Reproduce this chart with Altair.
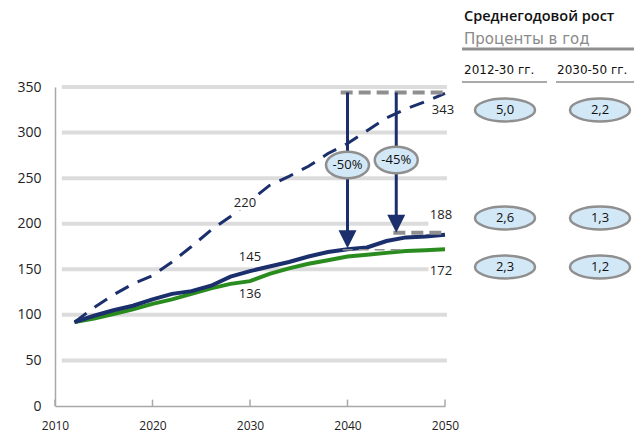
import altair as alt
import pandas as pd

# ---------------- data ----------------
years = [2012, 2014, 2016, 2018, 2020, 2022, 2024, 2026, 2028, 2030,
         2032, 2034, 2036, 2038, 2040, 2042, 2044, 2046, 2048, 2050]
blue_vals = [92, 99, 105, 110, 117, 123, 126, 132, 142, 148,
             153, 158, 164, 169, 172, 174, 181, 185, 186, 188]
green_vals = [92, 96, 101, 106, 112, 117, 123, 129, 134, 137,
              145, 151, 156, 160, 164, 166, 168, 170, 171, 172]
dashed_vals = [92, 108, 122, 134, 143, 158, 175, 193, 208, 225,
               242, 252, 263, 277, 288, 302, 316, 326, 334, 343]

end_labels = ["343", "188", "172"]
mid_labels = ["220", "145", "136"]
reduction_labels = ["-50%", "-45%"]
reduction_years = [2040, 2045]
reduction_tips = [173, 190]
reduction_top = 344

table_title = "Среднегодовой рост"
table_subtitle = "Проценты в год"
period_labels = ["2012-30 гг.", "2030-50 гг."]
growth_2012_30 = ["5,0", "2,6", "2,3"]
growth_2030_50 = ["2,2", "1,3", "1,2"]

y_ticks = [0, 50, 100, 150, 200, 250, 300, 350]
x_ticks = [2010, 2020, 2030, 2040, 2050]

# ---------------- layout helpers ----------------
X0, Y0 = 55, 87            # absolute page position of plot origin
PW, PH = 390, 319          # span of 2010-2050 and 0-350
XR = 634                   # right edge of drawing on the page
XPX = PW / 40.0
YPX = PH / 350.0
FONT = "Open Sans"
TFONT = "DejaVu Sans"
NAVY = "#1b2f6c"
GREEN = "#2a8c1f"
GRAY = "#8f8f8f"
GRID = "#dcdcdc"
BUBBLE = "#d3e8f7"


def xv(abs_x):
    return 2010 + (abs_x - X0) / XPX


def yv(abs_y):
    return 350 - (abs_y - Y0) / YPX


xscale = alt.Scale(domain=[2010, 2050], range=[0, PW], nice=False, zero=False)
yscale = alt.Scale(domain=[0, 350], nice=False)
xaxis = alt.Axis(values=x_ticks, format="d", ticks=False, grid=False,
                 domainColor="#a8a8a8", domainWidth=1.5, labelFont=FONT,
                 labelFontSize=12, labelColor="#222", labelPadding=14,
                 labelFlush=False, title=None)
yaxis = alt.Axis(values=y_ticks, ticks=False, grid=False, domainColor="#a8a8a8",
                 domainWidth=1.5, labelFont=FONT, labelFontSize=14,
                 labelColor="#222", labelPadding=14, labelFlush=False, title=None)


def X(f):
    return alt.X(f, type="quantitative", scale=xscale, axis=xaxis)


def Y(f):
    return alt.Y(f, type="quantitative", scale=yscale, axis=yaxis)


# ---------------- gridlines & ticks ----------------
grid_df = pd.DataFrame({
    "v": y_ticks[1:],
    "x1": [2010.7] * 7,
    "x2": [2050.2 if v not in (150, 200) else 2048.3 for v in y_ticks[1:]],
})
grid = alt.Chart(grid_df).mark_rule(color=GRID, strokeWidth=4).encode(
    x=X("x1"), x2="x2", y=Y("v"))

tick_df = pd.DataFrame({"year": x_ticks, "y1": [0] * 5, "y2": [7] * 5})
ticks = alt.Chart(tick_df).mark_rule(color="#a8a8a8", strokeWidth=1.5).encode(
    x=X("year"), y=Y("y1"), y2="y2")

# ---------------- lines ----------------
lines_df = pd.DataFrame({"year": years, "blue": blue_vals, "green": green_vals,
                         "dashed": dashed_vals})
green_line = alt.Chart(lines_df).mark_line(color=GREEN, strokeWidth=4).encode(
    x=X("year"), y=Y("green"))
blue_line = alt.Chart(lines_df).mark_line(color=NAVY, strokeWidth=4).encode(
    x=X("year"), y=Y("blue"))
dashed_line = alt.Chart(lines_df).mark_line(
    color=NAVY, strokeWidth=3, strokeDash=[15, 10]).encode(
    x=X("year"), y=Y("dashed"))

# ---------------- gray reference dashes ----------------
gd_df = pd.DataFrame({"x1": [2039.3, 2044.7], "x2": [2050.2, 2050.2],
                      "v": [reduction_top, reduction_tips[1]]})
gray_dash = alt.Chart(gd_df).mark_rule(color=GRAY, strokeWidth=4,
                                       strokeDash=[12, 6]).encode(
    x=X("x1"), x2="x2", y=Y("v"))
thin_df = pd.DataFrame({"x1": [2039.5], "x2": [2046.0], "v": [171.5]})
thin_dash = alt.Chart(thin_df).mark_rule(color=GRAY, strokeWidth=1.5,
                                         strokeDash=[10, 6]).encode(
    x=X("x1"), x2="x2", y=Y("v"))

# ---------------- arrows ----------------
arr_df = pd.DataFrame({
    "year": reduction_years,
    "top": [reduction_top] * 2,
    "tip": reduction_tips,
    "head": [t + 9 / YPX for t in reduction_tips],
    "shaft_end": [t + 12 / YPX for t in reduction_tips],
})
shafts = alt.Chart(arr_df).mark_rule(color=NAVY, strokeWidth=3).encode(
    x=X("year"), y=Y("top"), y2="shaft_end")
heads = alt.Chart(arr_df).mark_point(
    shape="M -1 -1 L 1 -1 L 0 1 Z", size=324, filled=True, opacity=1,
    color=NAVY).encode(x=X("year"), y=Y("head"))

# ---------------- reduction bubbles ----------------
red_df = pd.DataFrame({
    "year": reduction_years,
    "yy": [yv(165), yv(160)],
    "label": reduction_labels,
})
ELL_WIDE = "M -1 0 A 1 0.62 0 1 1 1 0 A 1 0.62 0 1 1 -1 0 Z"
red_bub = alt.Chart(red_df).mark_point(
    shape=ELL_WIDE, size=43 * 43, filled=True, fill=BUBBLE, stroke=GRAY,
    strokeWidth=2.5, opacity=1).encode(x=X("year"), y=Y("yy"))
red_txt = alt.Chart(red_df).mark_text(font=FONT, fontSize=13, color="#111").encode(
    x=X("year"), y=Y("yy"), text="label")

# ---------------- value labels ----------------
lab_df = pd.DataFrame({
    "label": end_labels + mid_labels,
    "xx": [xv(443), xv(441), xv(441), xv(245), xv(250), xv(250)],
    "yy": [yv(110), yv(215), yv(271), yv(203), yv(257), yv(294)],
})
mask_df = pd.DataFrame({"x1": [xv(229)], "x2": [xv(262)],
                        "y1": [yv(196)], "y2": [yv(210)]})
mask = alt.Chart(mask_df).mark_rect(color="white").encode(
    x=X("x1"), x2="x2", y=Y("y1"), y2="y2")
labels = alt.Chart(lab_df).mark_text(font=FONT, fontSize=13, color="#222").encode(
    x=X("xx"), y=Y("yy"), text="label")

# ---------------- table ----------------
rows_abs_y = [110, 218, 267]
cols_abs_x = [505, 600]
tab_df = pd.DataFrame({
    "xx": [xv(cols_abs_x[0])] * 3 + [xv(cols_abs_x[1])] * 3,
    "yy": [yv(r) for r in rows_abs_y] * 2,
    "label": growth_2012_30 + growth_2030_50,
})
ELL_TAB = "M -1 0 A 1 0.38 0 1 1 1 0 A 1 0.38 0 1 1 -1 0 Z"
tab_bub = alt.Chart(tab_df).mark_point(
    shape=ELL_TAB, size=60 * 60, filled=True, fill=BUBBLE, stroke=GRAY,
    strokeWidth=2.5, opacity=1).encode(x=X("xx"), y=Y("yy"))
tab_txt = alt.Chart(tab_df).mark_text(font=FONT, fontSize=13, color="#111").encode(
    x=X("xx"), y=Y("yy"), text="label")

hdr = pd.DataFrame({"t": [0]})
title_txt = alt.Chart(hdr).mark_text(
    font=FONT, fontSize=14.5, fontWeight=600, color="#111", align="left",
    baseline="middle", text=table_title).encode(
    x=alt.value(464 - X0), y=alt.value(17 - Y0))
sub_txt = alt.Chart(hdr).mark_text(
    font=TFONT, fontSize=15, color="#8a8a8a", align="left",
    baseline="middle", text=table_subtitle).encode(
    x=alt.value(464 - X0), y=alt.value(39 - Y0))
thick_rule = alt.Chart(hdr).mark_rule(color=GRAY, strokeWidth=3).encode(
    x=alt.value(462 - X0), x2=alt.value(XR - X0), y=alt.value(49 - Y0))
col1_txt = alt.Chart(hdr).mark_text(
    font=TFONT, fontSize=12, color="#111", align="left", baseline="middle",
    text=period_labels[0]).encode(x=alt.value(464 - X0), y=alt.value(70 - Y0))
col2_txt = alt.Chart(hdr).mark_text(
    font=TFONT, fontSize=12, color="#111", align="left", baseline="middle",
    text=period_labels[1]).encode(x=alt.value(557 - X0), y=alt.value(70 - Y0))
col1_rule = alt.Chart(hdr).mark_rule(color="#555", strokeWidth=1).encode(
    x=alt.value(462 - X0), x2=alt.value(547 - X0), y=alt.value(82 - Y0))
col2_rule = alt.Chart(hdr).mark_rule(color="#555", strokeWidth=1).encode(
    x=alt.value(556 - X0), x2=alt.value(XR - X0), y=alt.value(82 - Y0))

chart = alt.layer(
    grid, ticks, green_line, blue_line, dashed_line, gray_dash, thin_dash,
    shafts, heads, red_bub, red_txt, mask, labels, tab_bub, tab_txt,
    title_txt, sub_txt, thick_rule, col1_txt, col2_txt, col1_rule, col2_rule,
).properties(
    width=XR - X0, height=PH,
    autosize=alt.AutoSizeParams(type="none"),
    padding={"left": X0 - 8, "top": Y0 - 8, "right": 0, "bottom": 26},
).configure_view(stroke=None)

chart.save("out.html", embed_options={"renderer": "svg", "actions": False})
